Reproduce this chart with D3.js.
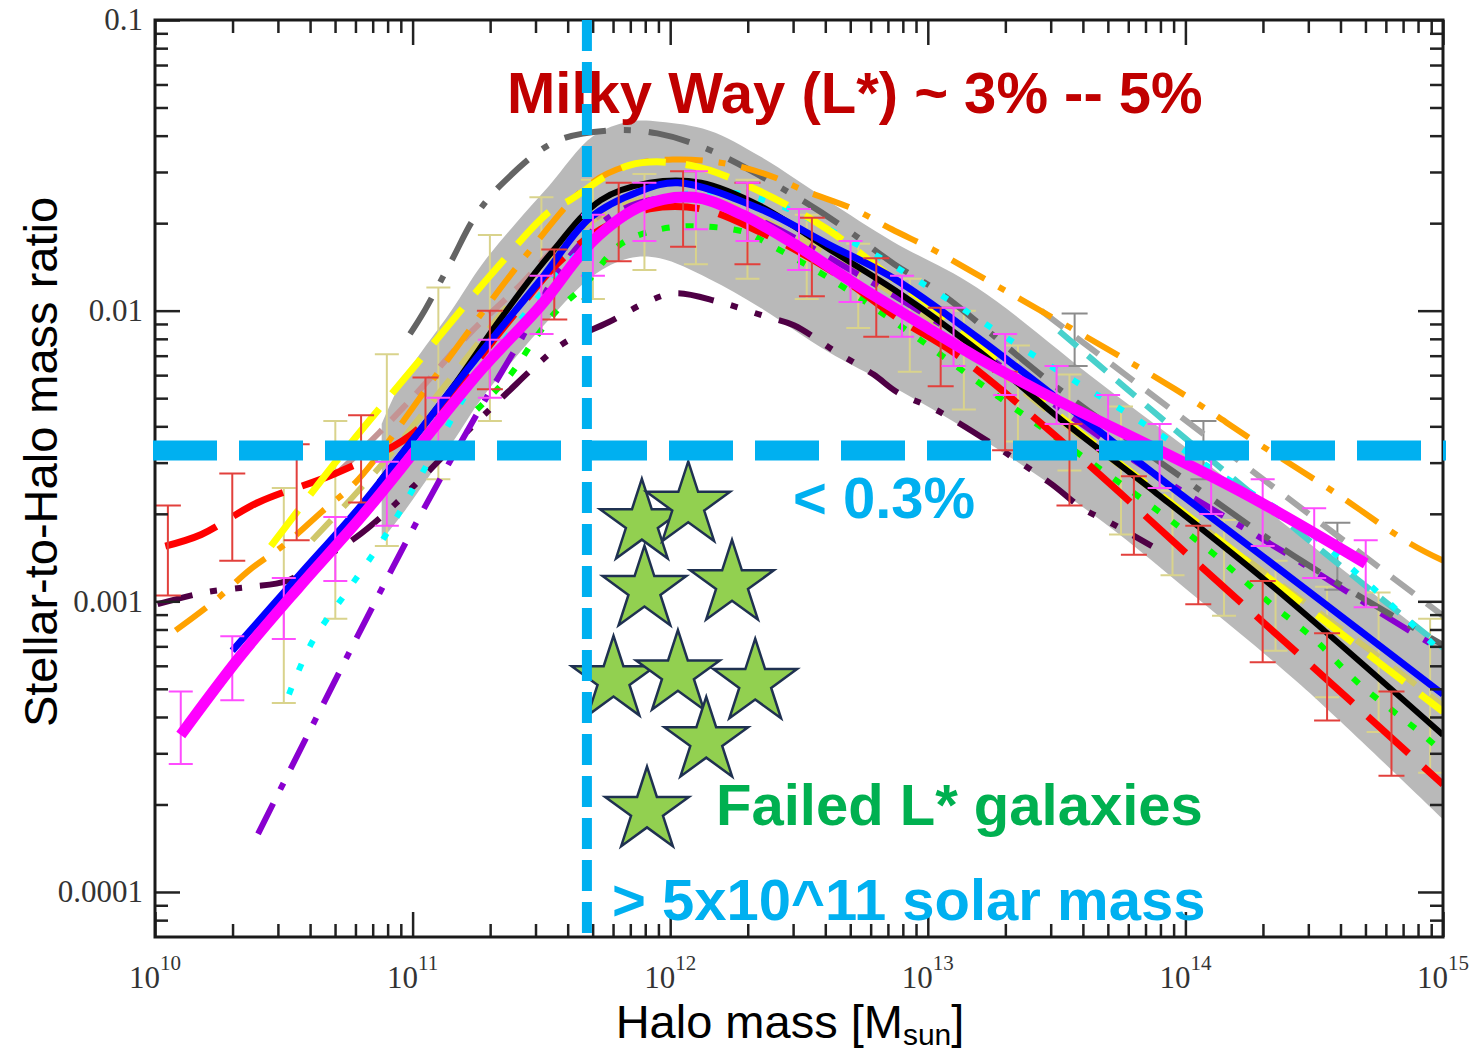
<!DOCTYPE html>
<html>
<head>
<meta charset="utf-8">
<script src="https://cdn.jsdelivr.net/npm/d3@7"></script>
<style>
  body { margin: 0; background: #fff; }
  svg { display: block; }
</style>
</head>
<body>
<svg width="1473" height="1054"></svg>
<script>
// all masses are log10(M_halo / M_sun), all ratios are log10(M_star / M_halo)

// shaded scatter band
var bandLogM  = [10.88, 10.96, 11.15, 11.27, 11.40, 11.53, 11.70, 11.84, 11.96, 12.15, 12.35, 12.61, 12.86, 13.19, 13.67, 14.06, 14.45, 15.0];
var bandUpper = [-2.39, -2.24, -2.00, -1.84, -1.70, -1.57, -1.40, -1.35, -1.35, -1.38, -1.47, -1.62, -1.76, -1.92, -2.25, -2.51, -2.78, -3.16];
var bandLower = [-2.79, -2.70, -2.46, -2.30, -2.16, -2.03, -1.88, -1.82, -1.82, -1.89, -1.99, -2.14, -2.26, -2.43, -2.72, -3.00, -3.29, -3.75];

// model curves
var magentaLogM = [10.10, 10.33, 10.56, 10.80, 11.03, 11.26, 11.50, 11.70, 11.89, 12.09, 12.28, 12.48, 12.74, 13.00, 13.19, 13.44, 14.21, 14.70];
var magentaLogR = [-3.46, -3.19, -2.95, -2.71, -2.46, -2.21, -1.98, -1.76, -1.64, -1.61, -1.67, -1.77, -1.92, -2.06, -2.16, -2.28, -2.62, -2.87];

var blueLogM = [10.30, 10.56, 10.80, 11.03, 11.26, 11.50, 11.69, 11.88, 12.03, 12.35, 12.61, 12.87, 13.19, 13.63, 13.95, 14.47, 15.0];
var blueLogR = [-3.17, -2.91, -2.67, -2.41, -2.15, -1.89, -1.68, -1.59, -1.56, -1.65, -1.77, -1.89, -2.09, -2.39, -2.61, -2.96, -3.32];

var blackLogM = [10.87, 11.15, 11.34, 11.53, 11.73, 11.92, 12.12, 12.35, 12.62, 12.89, 13.20, 13.51, 13.89, 14.34, 15.0];
var blackLogR = [-2.59, -2.27, -2.03, -1.81, -1.62, -1.56, -1.56, -1.64, -1.79, -1.94, -2.14, -2.37, -2.63, -2.95, -3.46];

var yellowLogM = [10.45, 10.72, 11.00, 11.32, 11.53, 11.61, 11.84, 12.08, 12.35, 12.61, 12.85, 13.09, 13.55, 14.06, 15.0];
var yellowLogR = [-2.81, -2.50, -2.20, -1.86, -1.66, -1.62, -1.50, -1.50, -1.59, -1.72, -1.88, -2.04, -2.39, -2.74, -3.38];

var orangeLogM = [10.08, 10.23, 10.37, 10.51, 10.65, 10.79, 11.11, 11.44, 11.68, 11.84, 12.01, 12.19, 12.37, 12.53, 12.71, 12.86, 13.02, 13.18, 13.96, 14.27, 14.57, 14.87, 15.0];
var orangeLogR = [-3.10, -3.00, -2.89, -2.80, -2.69, -2.58, -2.20, -1.81, -1.57, -1.50, -1.48, -1.49, -1.53, -1.59, -1.65, -1.72, -1.79, -1.87, -2.27, -2.45, -2.62, -2.80, -2.86];

var grayLogM = [10.99, 11.04, 11.15, 11.24, 11.34, 11.55, 11.76, 11.95, 12.16, 12.53, 12.70, 12.87, 13.05, 13.51, 14.06, 14.45, 15.0];
var grayLogR = [-2.08, -2.01, -1.83, -1.68, -1.57, -1.42, -1.38, -1.39, -1.45, -1.63, -1.73, -1.84, -1.94, -2.27, -2.62, -2.86, -3.15];

var redLogM = [10.04, 10.18, 10.40, 10.70, 10.99, 11.18, 11.37, 11.56, 11.73, 11.92, 12.12, 12.35, 12.62, 12.89, 13.11, 13.56, 14.06, 14.45, 15.0];
var redLogR = [-2.81, -2.77, -2.66, -2.56, -2.43, -2.25, -2.04, -1.84, -1.72, -1.65, -1.65, -1.73, -1.86, -2.03, -2.15, -2.48, -2.88, -3.19, -3.63];

var maroonLogM = [10.01, 10.19, 10.37, 10.51, 10.64, 10.78, 10.89, 11.02, 11.23, 11.37, 11.49, 11.59, 11.76, 11.91, 12.02, 12.19, 12.37, 12.48, 12.64, 12.79, 12.88, 13.05, 13.47, 13.60, 13.71, 13.87];
var maroonLogR = [-3.01, -2.97, -2.95, -2.93, -2.86, -2.78, -2.70, -2.59, -2.40, -2.28, -2.18, -2.11, -2.04, -1.97, -1.94, -1.97, -2.02, -2.05, -2.14, -2.22, -2.28, -2.35, -2.59, -2.68, -2.73, -2.81];

var violetLogM = [10.40, 10.99, 11.26, 11.42, 11.57, 11.76, 11.92, 12.12, 12.35, 12.70, 13.09, 13.47, 13.86, 14.40, 14.83, 15.0];
var violetLogR = [-3.80, -2.77, -2.34, -2.10, -1.86, -1.68, -1.62, -1.62, -1.69, -1.86, -2.07, -2.31, -2.55, -2.84, -3.08, -3.17];

var cyanLogM = [10.52, 10.61, 10.75, 10.89, 11.03, 11.22, 11.42, 11.61, 11.77, 11.96, 12.19, 12.40, 12.72, 13.04, 13.44, 13.84, 14.13, 14.45, 15.0];
var cyanLogR = [-3.32, -3.14, -2.96, -2.78, -2.57, -2.27, -2.03, -1.83, -1.71, -1.62, -1.59, -1.63, -1.77, -1.94, -2.17, -2.39, -2.56, -2.74, -3.18];

var greenLogM = [11.25, 11.38, 11.48, 11.56, 11.66, 11.81, 11.96, 12.12, 12.29, 12.38, 12.62, 12.89, 13.28, 13.85, 14.10, 14.32, 14.50, 14.67, 14.91, 15.0];
var greenLogR = [-2.34, -2.22, -2.09, -2.00, -1.92, -1.77, -1.72, -1.71, -1.73, -1.77, -1.89, -2.05, -2.30, -2.66, -2.83, -3.00, -3.13, -3.28, -3.45, -3.52];

var khakiLogM = [10.61, 10.87, 11.15, 11.42, 11.65, 11.88, 12.12, 12.39, 12.70, 13.09, 13.53, 14.06, 14.81, 15.0];
var khakiLogR = [-2.79, -2.54, -2.23, -1.93, -1.72, -1.62, -1.61, -1.70, -1.85, -2.08, -2.39, -2.74, -3.23, -3.36];

var rosyLogM = [10.72, 10.87, 11.03, 11.22, 11.42, 11.57, 11.73];
var rosyLogR = [-2.55, -2.42, -2.27, -2.08, -1.91, -1.77, -1.67];

var silverLogM = [13.44, 15.0];
var silverLogR = [-2.00, -3.05];

var turqLogM = [13.51, 13.96, 14.41, 15.0];
var turqLogR = [-2.07, -2.41, -2.74, -3.16];

// error bars
var redBarM  = [10.05, 10.30, 10.55, 10.80, 11.05, 11.30, 11.55, 11.80, 12.05, 12.30, 12.55, 12.80, 13.05, 13.30, 13.55, 13.80, 14.05, 14.30, 14.55, 14.80];
var redBarHi = [-2.67, -2.56, -2.46, -2.36, -2.23, -2.00, -1.79, -1.56, -1.52, -1.56, -1.68, -1.82, -1.99, -2.21, -2.39, -2.57, -2.74, -2.93, -3.11, -3.31];
var redBarLo = [-2.98, -2.86, -2.79, -2.66, -2.48, -2.27, -2.03, -1.83, -1.78, -1.84, -1.95, -2.09, -2.26, -2.48, -2.67, -2.84, -3.01, -3.21, -3.41, -3.60];

var magBarM  = [10.1, 10.3, 10.5, 10.7, 10.9, 11.1, 11.3, 11.5, 11.7, 11.9, 12.1, 12.3, 12.5, 12.7, 12.9, 13.1, 13.3, 13.5, 13.7, 13.9, 14.1, 14.3, 14.5, 14.7];
var magBarHi = [-3.31, -3.12, -2.92, -2.71, -2.52, -2.30, -2.10, -1.88, -1.67, -1.56, -1.52, -1.56, -1.65, -1.76, -1.88, -1.99, -2.08, -2.19, -2.29, -2.39, -2.49, -2.58, -2.68, -2.79];
var magBarLo = [-3.56, -3.34, -3.13, -2.93, -2.74, -2.50, -2.30, -2.08, -1.88, -1.76, -1.72, -1.76, -1.86, -1.97, -2.09, -2.19, -2.29, -2.39, -2.48, -2.61, -2.70, -2.81, -2.92, -3.02];

var khakiBarM  = [10.5, 10.7, 10.9, 11.1, 11.3, 11.5, 11.7, 11.9, 12.1, 12.3, 12.53, 12.73, 12.93, 13.14, 13.35, 13.55, 13.75, 13.95, 14.15, 14.35, 14.55, 14.75, 14.95];
var khakiBarHi = [-2.61, -2.38, -2.15, -1.92, -1.74, -1.61, -1.55, -1.53, -1.52, -1.55, -1.67, -1.77, -1.89, -2.00, -2.12, -2.22, -2.33, -2.62, -2.72, -2.86, -2.95, -2.97, -3.06];
var khakiBarLo = [-3.35, -3.06, -2.81, -2.58, -2.38, -2.08, -1.96, -1.86, -1.84, -1.89, -1.96, -2.06, -2.21, -2.34, -2.45, -2.55, -2.77, -2.91, -3.05, -3.17, -3.33, -3.45, -3.59];

var grayBarM  = [13.57, 14.07, 14.59];
var grayBarHi = [-2.01, -2.38, -2.73];
var grayBarLo = [-2.19, -2.58, -2.96];

// failed L* galaxies
var starLogM = [11.89, 12.07, 11.90, 12.24, 11.78, 12.03, 12.33, 12.14, 11.91];
var starLogR = [-2.73, -2.67, -2.96, -2.94, -3.27, -3.25, -3.28, -3.48, -3.72];

// thresholds
var mwMass = 4.75e11;
var lowRatio = 0.0033;

// ticks
var xTickExp = [10, 11, 12, 13, 14, 15];
var yTickVals = [1e-4, 1e-3, 1e-2, 1e-1];
var yTickLabels = ["0.0001", "0.001", "0.01", "0.1"];

var svg = d3.select("svg"),
    width = +svg.attr("width"),
    height = +svg.attr("height");

var frame = {l: 155, r: 1443, t: 20, b: 937};

var x = d3.scaleLog().domain([1e10, 1e15]).range([frame.l, frame.r]);
var y = d3.scaleLog().domain([7e-5, 0.1]).range([frame.b, frame.t]);

function pts(m, r) {
    return m.map(function(v, i) { return [Math.pow(10, v), Math.pow(10, r[i])]; });
}

svg.append("defs").append("clipPath").attr("id", "clip")
    .append("rect")
    .attr("x", frame.l).attr("y", frame.t)
    .attr("width", frame.r - frame.l).attr("height", frame.b - frame.t);

var plot = svg.append("g").attr("clip-path", "url(#clip)");

// band
var band = d3.area()
    .x(function(d) { return x(Math.pow(10, d.m)); })
    .y0(function(d) { return y(Math.pow(10, d.lo)); })
    .y1(function(d) { return y(Math.pow(10, d.hi)); })
    .curve(d3.curveCatmullRom.alpha(0.5));

plot.append("path")
    .datum(bandLogM.map(function(m, i) { return {m: m, lo: bandLower[i], hi: bandUpper[i]}; }))
    .attr("d", band)
    .attr("fill", "#b9b9b9");

function errorBars(m, lo, hi, color, cap, w) {
    var g = plot.append("g")
        .attr("stroke", color)
        .attr("stroke-width", w)
        .attr("fill", "none");
    g.selectAll("path")
        .data(m.map(function(v, i) { return {x: x(Math.pow(10, v)), y0: y(Math.pow(10, lo[i])), y1: y(Math.pow(10, hi[i]))}; }))
        .enter().append("path")
        .attr("d", function(d) {
            return "M" + (d.x - cap) + "," + d.y1 + "H" + (d.x + cap) +
                   "M" + d.x + "," + d.y1 + "V" + d.y0 +
                   "M" + (d.x - cap) + "," + d.y0 + "H" + (d.x + cap);
        });
}

errorBars(khakiBarM, khakiBarLo, khakiBarHi, "#d9d38c", 12, 2);
errorBars(grayBarM, grayBarLo, grayBarHi, "#8c8c8c", 13, 2);

var line = d3.line()
    .x(function(d) { return x(d[0]); })
    .y(function(d) { return y(d[1]); })
    .curve(d3.curveCatmullRom.alpha(0.5));

var curves = [
    {m: silverLogM, r: silverLogR, color: "#a6a6a6", width: 6, dash: "28,16"},
    {m: turqLogM,   r: turqLogR,   color: "#48d1cc", width: 6, dash: "24,14"},
    {m: khakiLogM,  r: khakiLogR,  color: "#cfc76a", width: 6, dash: "28,18"},
    {m: rosyLogM,   r: rosyLogR,   color: "#c49494", width: 6, dash: "22,14"},
    {m: maroonLogM, r: maroonLogR, color: "#4f0045", width: 6, dash: "36,18,7,18,7,18"},
    {m: violetLogM, r: violetLogR, color: "#8a00d0", width: 6, dash: "34,16,7,16"},
    {m: grayLogM,   r: grayLogR,   color: "#646464", width: 6, dash: "42,18,7,18"},
    {m: orangeLogM, r: orangeLogR, color: "#ffa200", width: 6, dash: "38,16,7,16"},
    {m: greenLogM,  r: greenLogR,  color: "#00ff00", width: 6, dash: "8,16"},
    {m: cyanLogM,   r: cyanLogR,   color: "#00ffff", width: 6, dash: "7,19"},
    {m: redLogM,    r: redLogR,    color: "#ff0000", width: 7, dash: "55,20"},
    {m: yellowLogM, r: yellowLogR, color: "#ffff00", width: 7, dash: "45,20"},
    {m: blackLogM,  r: blackLogR,  color: "#000000", width: 6, dash: null},
    {m: blueLogM,   r: blueLogR,   color: "#0000ff", width: 7, dash: null}
];

plot.selectAll(".curve")
    .data(curves)
    .enter().append("path")
    .attr("class", "curve")
    .attr("d", function(d) { return line(pts(d.m, d.r)); })
    .attr("fill", "none")
    .attr("stroke", function(d) { return d.color; })
    .attr("stroke-width", function(d) { return d.width; })
    .attr("stroke-dasharray", function(d) { return d.dash; });

errorBars(redBarM, redBarLo, redBarHi, "#e2403c", 13, 2);
errorBars(magBarM, magBarLo, magBarHi, "#ff4cff", 12, 2);

plot.append("path")
    .attr("d", line(pts(magentaLogM, magentaLogR)))
    .attr("fill", "none")
    .attr("stroke", "#ff00ff")
    .attr("stroke-width", 11);

// axes, ticks pointing inward
var minorX = [], minorY = [];
for (var k = 10; k < 15; k++) for (var j = 2; j < 10; j++) minorX.push(j * Math.pow(10, k));
for (var k2 = -5; k2 < -1; k2++) for (var j2 = 2; j2 < 10; j2++) {
    var v = j2 * Math.pow(10, k2);
    if (v > 7.5e-5 && v < 0.1) minorY.push(v);
}
var majorX = xTickExp.map(function(e) { return Math.pow(10, e); });

function tickStyle(g) {
    g.select(".domain").remove();
    g.selectAll("line").attr("stroke", "#222").attr("stroke-width", 2.5);
}

svg.append("g").attr("transform", "translate(0," + frame.b + ")")
    .call(d3.axisBottom(x).tickValues(majorX).tickSize(-25).tickFormat("")).call(tickStyle);
svg.append("g").attr("transform", "translate(0," + frame.b + ")")
    .call(d3.axisBottom(x).tickValues(minorX).tickSize(-13).tickFormat("")).call(tickStyle);
svg.append("g").attr("transform", "translate(0," + frame.t + ")")
    .call(d3.axisTop(x).tickValues(majorX).tickSize(-25).tickFormat("")).call(tickStyle);
svg.append("g").attr("transform", "translate(0," + frame.t + ")")
    .call(d3.axisTop(x).tickValues(minorX).tickSize(-13).tickFormat("")).call(tickStyle);

svg.append("g").attr("transform", "translate(" + frame.l + ",0)")
    .call(d3.axisLeft(y).tickValues(yTickVals).tickSize(-25).tickPadding(12)
        .tickFormat(function(d, i) { return yTickLabels[i]; }))
    .call(tickStyle)
    .selectAll("text")
    .attr("font-family", "'Liberation Serif', 'Times New Roman', serif")
    .attr("font-size", 31)
    .attr("fill", "#333");
svg.append("g").attr("transform", "translate(" + frame.l + ",0)")
    .call(d3.axisLeft(y).tickValues(minorY).tickSize(-13).tickFormat("")).call(tickStyle);
svg.append("g").attr("transform", "translate(" + frame.r + ",0)")
    .call(d3.axisRight(y).tickValues(yTickVals).tickSize(-25).tickFormat("")).call(tickStyle);
svg.append("g").attr("transform", "translate(" + frame.r + ",0)")
    .call(d3.axisRight(y).tickValues(minorY).tickSize(-13).tickFormat("")).call(tickStyle);

svg.append("rect")
    .attr("x", frame.l).attr("y", frame.t)
    .attr("width", frame.r - frame.l).attr("height", frame.b - frame.t)
    .attr("fill", "none").attr("stroke", "#1a1a1a").attr("stroke-width", 3);

// x tick labels 10^n
var xl = svg.append("g").selectAll("text")
    .data(xTickExp)
    .enter().append("text")
    .attr("x", function(d) { return x(Math.pow(10, d)); })
    .attr("y", 988)
    .attr("text-anchor", "middle")
    .attr("font-family", "'Liberation Serif', 'Times New Roman', serif")
    .attr("font-size", 31)
    .attr("fill", "#333");
xl.append("tspan").text("10");
xl.append("tspan").attr("dy", -18).attr("font-size", 21).text(function(d) { return d; });

// axis titles
svg.append("text")
    .attr("transform", "translate(57,462) rotate(-90)")
    .attr("text-anchor", "middle")
    .attr("font-family", "'Liberation Sans', Arial, sans-serif")
    .attr("font-size", 47)
    .attr("fill", "#000")
    .text("Stellar-to-Halo mass ratio");

var xt = svg.append("text")
    .attr("x", 790).attr("y", 1038)
    .attr("text-anchor", "middle")
    .attr("font-family", "'Liberation Sans', Arial, sans-serif")
    .attr("font-size", 47)
    .attr("fill", "#000");
xt.append("tspan").text("Halo mass [M");
xt.append("tspan").attr("dy", 7).attr("font-size", 30).text("sun");
xt.append("tspan").attr("dy", -7).text("]");

// annotations
function note(tx, ty, color, str) {
    svg.append("text")
        .attr("x", tx).attr("y", ty)
        .attr("font-family", "'Liberation Sans', Arial, sans-serif")
        .attr("font-weight", "bold")
        .attr("font-size", 58)
        .attr("fill", color)
        .text(str);
}
note(507, 113, "#c00000", "Milky Way (L*) ~ 3% -- 5%");
note(793, 518, "#00b0f0", "< 0.3%");
note(716, 825, "#00b050", "Failed L* galaxies");
note(612, 920, "#00b0f0", "> 5x10^11 solar mass");

// stars
var star = d3.symbol().type(d3.symbolStar).size(2170);
svg.append("g").selectAll("path")
    .data(starLogM.map(function(m, i) { return [Math.pow(10, m), Math.pow(10, starLogR[i])]; }))
    .enter().append("path")
    .attr("transform", function(d) { return "translate(" + x(d[0]) + "," + y(d[1]) + ")"; })
    .attr("d", star)
    .attr("fill", "#92d050")
    .attr("stroke", "#1f3151")
    .attr("stroke-width", 2.5)
    .attr("stroke-linejoin", "miter");

// threshold lines
svg.append("line")
    .attr("x1", frame.l - 2).attr("x2", frame.r + 3)
    .attr("y1", y(lowRatio)).attr("y2", y(lowRatio))
    .attr("stroke", "#00b0f0")
    .attr("stroke-width", 20)
    .attr("stroke-dasharray", "64,22");

svg.append("line")
    .attr("x1", x(mwMass)).attr("x2", x(mwMass))
    .attr("y1", frame.t).attr("y2", frame.b)
    .attr("stroke", "#00b0f0")
    .attr("stroke-width", 10)
    .attr("stroke-dasharray", "31,11");
</script>
</body>
</html>
